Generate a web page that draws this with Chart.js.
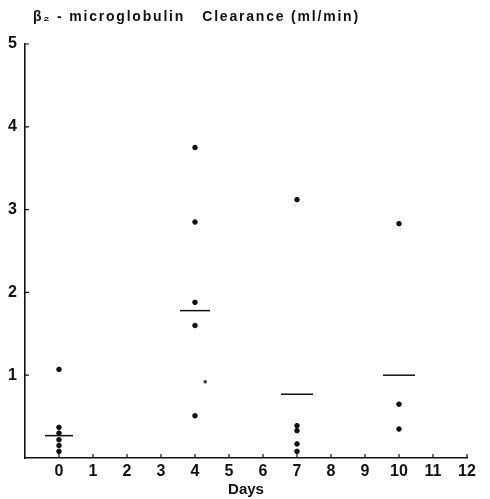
<!DOCTYPE html>
<html>
<head>
<meta charset="utf-8">
<script src="https://cdn.jsdelivr.net/npm/chart.js@4"></script>
<style>
  html, body { margin: 0; padding: 0; background: #fff; }
  #wrap { width: 490px; height: 499px; position: relative; }
</style>
</head>
<body>
<div id="wrap"><canvas id="chart" width="490" height="499"></canvas></div>
<script>
// ── Data ─────────────────────────────────────────────────────
const dayTicks = [0, 1, 2, 3, 4, 5, 6, 7, 8, 9, 10, 11, 12];
const yTicks = [1, 2, 3, 4, 5];

const day0 = [1.07, 0.37, 0.30, 0.22, 0.15, 0.08];
const day4 = [3.75, 2.85, 1.88, 1.60, 0.51];
const day7 = [3.12, 0.39, 0.33, 0.17, 0.08];
const day10 = [2.83, 0.65, 0.35];
const strayPoints = [{ x: 4.3, y: 0.92 }];

const medianDays = [0, 4, 7, 10];
const medianValues = [0.27, 1.78, 0.77, 1.00];

const titleText = 'β₂ - microglobulin   Clearance (ml/min)';

// ── Build datasets ───────────────────────────────────────────
const points = []
  .concat(day0.map(v => ({ x: 0, y: v })))
  .concat(day4.map(v => ({ x: 4, y: v })))
  .concat(day7.map(v => ({ x: 7, y: v })))
  .concat(day10.map(v => ({ x: 10, y: v })));

const medians = medianDays.map((d, i) => ({ x: d, y: medianValues[i] }));

// inward tick marks + title, drawn via the chart's scales
const decorations = {
  id: 'decorations',
  afterDraw(chart) {
    const { ctx, scales: { x, y }, chartArea } = chart;
    ctx.save();
    ctx.strokeStyle = '#111';
    ctx.lineWidth = 1.2;
    ctx.beginPath();
    dayTicks.forEach(d => {
      const px = x.getPixelForValue(d);
      ctx.moveTo(px, chartArea.bottom);
      ctx.lineTo(px, chartArea.bottom - 4);
    });
    yTicks.forEach(v => {
      const py = y.getPixelForValue(v);
      ctx.moveTo(chartArea.left, py);
      ctx.lineTo(chartArea.left + 4, py);
    });
    ctx.stroke();

    ctx.fillStyle = '#111';
    ctx.font = 'bold 14px "Liberation Sans", Arial, sans-serif';
    ctx.letterSpacing = '1.8px';
    ctx.textBaseline = 'middle';
    ctx.textAlign = 'left';
    ctx.fillText(titleText, 33, 17);
    ctx.restore();
  }
};

new Chart(document.getElementById('chart'), {
  type: 'scatter',
  data: {
    datasets: [
      {
        label: 'Clearance',
        data: points,
        backgroundColor: '#111',
        borderColor: '#111',
        pointRadius: 2.3,
        pointHoverRadius: 2.3,
      },
      {
        label: 'Stray',
        data: strayPoints,
        backgroundColor: '#333',
        borderColor: '#333',
        pointRadius: 1.3,
      },
      {
        label: 'Median',
        data: medians,
        pointStyle: 'line',
        pointRadius: [14, 15, 16, 16],
        borderColor: '#111',
        borderWidth: 1.5,
      }
    ]
  },
  options: {
    responsive: false,
    animation: false,
    layout: { padding: { top: 44, right: 23, left: 0, bottom: 0 } },
    plugins: {
      legend: { display: false },
      tooltip: { enabled: false },
      title: { display: false }
    },
    scales: {
      x: {
        type: 'linear',
        min: -1,
        max: 12,
        afterBuildTicks: axis => { axis.ticks = dayTicks.map(v => ({ value: v })); },
        afterFit: axis => { axis.height = 41; },
        grid: { display: false, drawTicks: false },
        border: { display: true, color: '#111', width: 1.6 },
        ticks: {
          color: '#111',
          padding: 4,
          font: { family: '"Liberation Sans", Arial, sans-serif', size: 16, weight: 'bold' }
        },
        title: {
          display: true,
          text: 'Days',
          color: '#111',
          padding: { top: 0, bottom: 0 },
          font: { family: '"Liberation Sans", Arial, sans-serif', size: 15, weight: 'bold' }
        }
      },
      y: {
        type: 'linear',
        min: 0,
        max: 5,
        afterBuildTicks: axis => { axis.ticks = yTicks.map(v => ({ value: v })); },
        afterFit: axis => { axis.width = 25; },
        grid: { display: false, drawTicks: false },
        border: { display: true, color: '#111', width: 1.6 },
        ticks: {
          color: '#111',
          padding: 8,
          font: { family: '"Liberation Sans", Arial, sans-serif', size: 16, weight: 'bold' }
        }
      }
    }
  },
  plugins: [decorations]
});
</script>
</body>
</html>
